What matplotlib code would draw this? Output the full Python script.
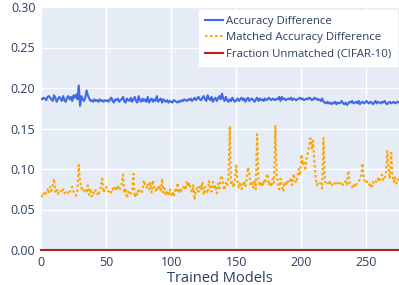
import numpy as np
import matplotlib
matplotlib.use("Agg")
import matplotlib.pyplot as plt

plt.rcParams['font.family'] = ['Open Sans', 'DejaVu Sans']

acc_diff_milli = [
    187,186,188,187,185,189,190,188,186,184,
    191,188,183,186,189,187,184,190,185,183,
    188,190,186,189,184,191,188,192,186,203,
    178,190,186,184,188,197,191,187,184,185,
    183,186,184,185,183,186,184,185,183,185,
    184,185,183,186,188,184,182,186,185,187,
    183,185,186,189,184,182,187,185,184,188,
    183,186,189,184,182,190,185,183,187,184,
    186,183,189,182,185,187,183,186,184,190,
    183,185,187,182,186,184,183,185,182,184,
    183,182,185,184,183,182,184,183,185,184,
    186,185,184,186,185,187,184,186,188,185,
    187,189,186,185,188,190,186,184,191,187,
    185,189,183,186,188,184,187,190,186,193,
    187,184,189,185,183,186,184,188,185,183,
    185,187,184,186,188,185,187,183,186,188,
    184,186,187,185,183,186,188,184,187,185,
    186,184,187,185,186,188,186,185,187,186,
    185,187,186,189,184,189,186,187,185,186,
    187,186,188,185,187,186,185,186,187,188,
    186,187,185,186,187,186,188,187,185,186,
    188,186,187,185,186,184,187,183,182,181,
    183,181,182,180,182,181,183,180,182,181,
    182,184,181,180,182,179,181,183,182,184,
    181,182,183,181,184,180,182,183,181,182,
    184,182,181,183,182,180,182,184,181,183,
    182,181,183,182,184,181,180,182,183,181,
    182,183,181,182,183,182,
]

matched_diff_milli = [
    68,66,70,67,72,75,70,78,73,80,
    88,72,76,69,74,73,71,75,70,72,
    73,69,71,75,78,72,70,67,74,105,
    85,76,78,72,74,70,80,68,76,66,
    71,69,74,70,67,73,78,88,71,75,
    78,73,72,74,71,76,73,78,75,80,
    74,77,82,93,70,76,64,72,68,70,
    74,94,65,71,68,76,72,70,74,86,
    79,77,82,75,83,71,86,77,73,78,
    74,80,72,88,71,76,67,72,69,75,
    68,72,66,74,71,83,70,76,73,75,
    80,74,85,78,83,76,71,80,62,74,
    77,72,80,75,84,68,78,73,70,85,
    78,72,84,75,80,70,82,76,88,92,
    78,74,83,79,88,153,80,84,77,88,
    104,82,77,84,75,80,85,78,88,102,
    95,80,83,77,86,75,143,88,79,84,
    78,86,82,90,94,80,84,78,88,83,
    153,92,82,75,88,80,72,84,79,86,
    82,85,89,80,94,87,83,91,100,92,
    118,105,110,98,112,120,130,138,125,135,
    110,88,80,84,83,82,76,138,85,83,
    85,81,84,79,82,84,82,80,83,85,
    82,84,80,83,85,81,98,83,80,78,
    76,82,80,83,85,87,92,107,88,84,
    86,81,80,83,76,84,82,85,83,88,
    85,90,93,86,88,96,122,100,88,120,
    92,84,90,82,86,90,
]

frac_unmatched = [0.0] * len(acc_diff_milli)

series_names = ["Accuracy Difference", "Matched Accuracy Difference",
                "Fraction Unmatched (CIFAR-10)"]

acc_diff = np.array(acc_diff_milli) / 1000.0
matched_diff = np.array(matched_diff_milli) / 1000.0
x = np.arange(len(acc_diff))

fig = plt.figure(figsize=(3.99, 2.85), dpi=100)
ax = fig.add_axes([41/399, 1 - 250/285, 1 - 41/399, (250 - 7)/285])
ax.set_facecolor('#E5ECF6')

ax.plot(x, acc_diff, color='#4169E1', lw=1.5, label=series_names[0])
ax.plot(x, matched_diff, color='#FFA500', lw=1.5, linestyle=(0, (1.2, 1.2)),
        label=series_names[1])
ax.plot(x, frac_unmatched, color='#B22222', lw=1.5, label=series_names[2],
        clip_on=False, zorder=5)

ax.set_xlim(0, len(x) - 1)
ax.set_ylim(0, 0.30)
ax.set_xticks([0, 50, 100, 150, 200, 250])
ax.set_yticks([0, 0.05, 0.10, 0.15, 0.20, 0.25, 0.30])
ax.set_yticklabels([f"{v:.2f}" for v in [0, 0.05, 0.10, 0.15, 0.20, 0.25, 0.30]])
ax.grid(True, color='white', lw=1)
ax.set_axisbelow(True)
for s in ax.spines.values():
    s.set_visible(False)
ax.tick_params(length=0, labelsize=9, colors='#2a3f5f', pad=4)
ax.set_xlabel("Trained Models", fontsize=10.5, color='#2a3f5f', labelpad=2)

leg = ax.legend(loc='upper right', bbox_to_anchor=(0.995, 0.988), fontsize=8.2,
                frameon=True, fancybox=False, framealpha=1, edgecolor='white',
                facecolor='white', handlelength=1.6, handletextpad=0.3,
                borderpad=0.5, labelspacing=0.5, borderaxespad=0.0)
for t in leg.get_texts():
    t.set_color('#2a3f5f')

fig.savefig("out.png", dpi=100)
